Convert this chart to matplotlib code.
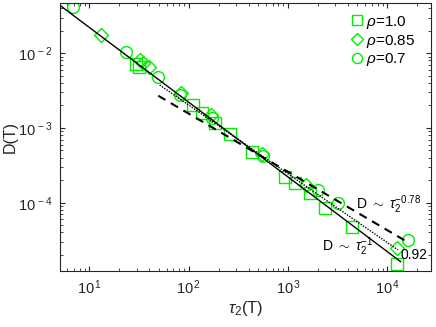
import numpy as np
import matplotlib
matplotlib.use('Agg')
import matplotlib.pyplot as plt
from matplotlib.ticker import LogLocator, FixedLocator, NullFormatter

plt.rcParams['font.family'] = ['Liberation Sans', 'DejaVu Sans']
plt.rcParams['mathtext.fontset'] = 'custom'
plt.rcParams['mathtext.rm'] = 'Liberation Sans'
plt.rcParams['mathtext.it'] = 'Liberation Sans:italic'

# rho = 1.0 (squares)
tau_10 = [29.4, 31.6, 110, 136, 183, 262, 432, 927, 1167, 1652, 2337, 4365, 12370]
D_10 = [7.19e-3, 6.56e-3, 2.03e-3, 1.60e-3, 1.18e-3, 8.3e-4, 4.82e-4, 2.23e-4,
        1.81e-4, 1.34e-4, 8.41e-5, 4.77e-5, 1.51e-5]

# rho = 0.85 (diamonds)
tau_085 = [13.1, 32.4, 34.7, 39.8, 84.5, 167, 545, 1524, 12650]
D_085 = [0.0176, 8.13e-3, 7.41e-3, 6.62e-3, 2.92e-3, 1.49e-3, 4.49e-4, 1.73e-4, 2.45e-5]

# rho = 0.7 (circles)
tau_07 = [6.9, 23.2, 49.3, 81.6, 171, 557, 2004, 3177, 16200]
D_07 = [0.0413, 0.0105, 4.86e-3, 2.77e-3, 1.36e-3, 4.21e-4, 1.47e-4, 1.0e-4, 3.17e-5]

labels = [r'$\rho$=1.0', r'$\rho$=0.85', r'$\rho$=0.7']

# power-law guides: amplitude, exponent, tau range
fit_solid = (0.221, -1.0, 5.08, 13600)
fit_dash = (0.0565, -0.78, 49.3, 15200)
fit_dot = (0.140, -0.92, 51, 12770)

green = '#00ee00'

fig = plt.figure(figsize=(4.36, 3.27), dpi=100)
ax = fig.add_axes([0.1365, 0.1713, 0.852, 0.8195])

ax.plot(tau_10, D_10, 's', mfc='none', mec=green, ms=8, mew=1.0, label=labels[0])
ax.plot(tau_085, D_085, 'D', mfc='none', mec=green, ms=6.8, mew=1.0, label=labels[1])
ax.plot(tau_07, D_07, 'o', mfc='none', mec=green, ms=8.5, mew=1.0, label=labels[2])

for (a, b, t0, t1), ls, lw in [(fit_solid, '-', 1.0), (fit_dash, (0, (4, 3)), 1.5),
                               (fit_dot, (0, (1, 1)), 1.0)]:
    t = np.logspace(np.log10(t0), np.log10(t1), 50)
    ax.plot(t, a * t ** b, color='black', linestyle=ls, linewidth=lw)

ax.set_xscale('log')
ax.set_yscale('log')
ax.set_xlim(5.0, 2.75e4)
ax.set_ylim(1.22e-5, 0.047)

ax.xaxis.set_major_locator(FixedLocator([1e1, 1e2, 1e3, 1e4]))
ax.yaxis.set_major_locator(FixedLocator([1e-4, 1e-3, 1e-2]))
ax.xaxis.set_minor_locator(LogLocator(base=10, subs=np.arange(2, 10), numticks=20))
ax.yaxis.set_minor_locator(LogLocator(base=10, subs=np.arange(2, 10), numticks=20))
ax.xaxis.set_minor_formatter(NullFormatter())
ax.yaxis.set_minor_formatter(NullFormatter())
ax.set_xticklabels([r'$\mathregular{10^{\,1}}$', r'$\mathregular{10^{\,2}}$',
                    r'$\mathregular{10^{\,3}}$', r'$\mathregular{10^{\,4}}$'])
ax.set_yticklabels([r'$\mathregular{10^{\,-4}}$', r'$\mathregular{10^{\,-3}}$',
                    r'$\mathregular{10^{\,-2}}$'])

ax.tick_params(which='both', direction='in', top=True, right=True, labelsize=10.5,
               color='#262626', labelcolor='#262626')
ax.tick_params(which='major', length=3.5, width=0.8, pad=5)
ax.tick_params(which='minor', length=2.0, width=0.6)
for s in ax.spines.values():
    s.set_color('#262626')
    s.set_linewidth(0.8)

ax.set_xlabel(r'$\tau_2$(T)', fontsize=12, color='#262626', labelpad=2)
ax.set_ylabel('D(T)', fontsize=11.5, color='#262626')
ax.yaxis.set_label_coords(-0.112, 0.5)

ax.text(4790, 9.3e-5, r'D $\sim$ $\tau_2^{-0.78}$', fontsize=10, ha='left', va='center')
ax.text(2183, 2.55e-5, r'D $\sim$ $\tau_2^{-1}$', fontsize=10, ha='left', va='center')
ax.text(13590, 2.0e-5, '0.92', fontsize=10, ha='left', va='center')

ax.legend(loc='upper right', frameon=False, fontsize=11, handlelength=0.6,
          handletextpad=0.25, labelspacing=0.12, borderaxespad=0.3,
          markerscale=0.85, bbox_to_anchor=(0.985, 1.0))

fig.savefig('out.png', dpi=100)
